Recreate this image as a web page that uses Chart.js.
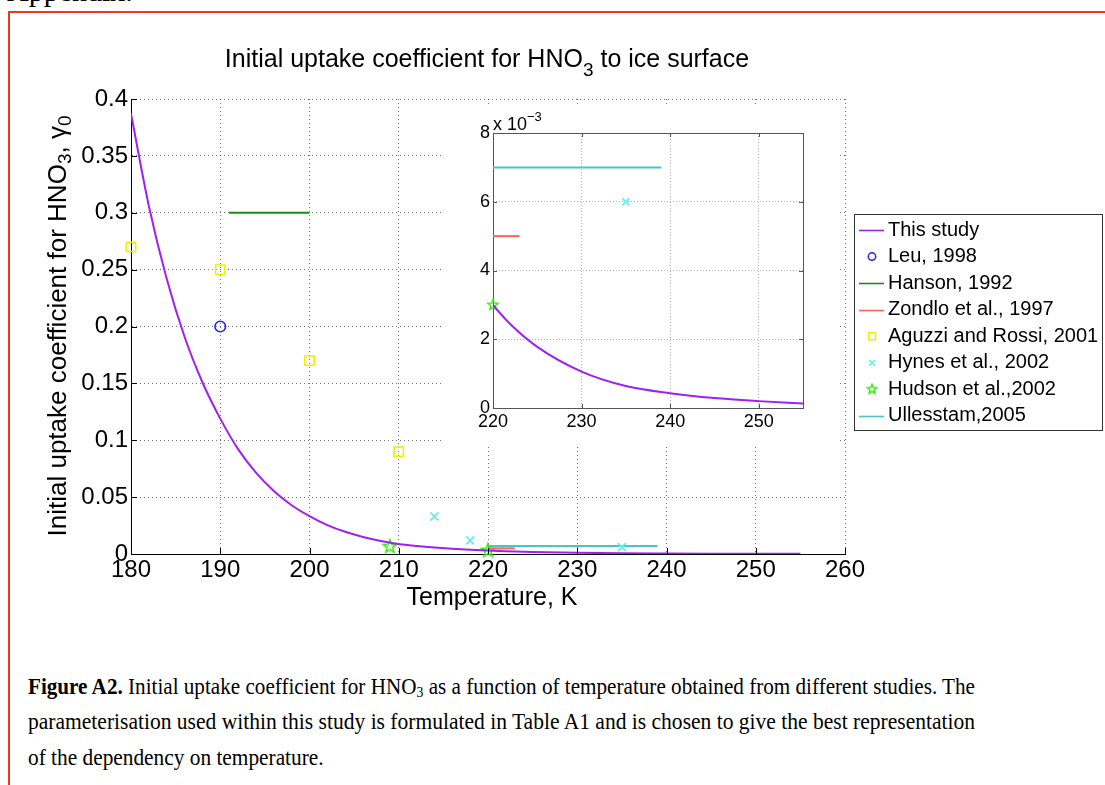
<!DOCTYPE html>
<html>
<head>
<meta charset="utf-8">
<script src="https://cdn.jsdelivr.net/npm/chart.js@4.4.1/dist/chart.umd.min.js"></script>
<style>
html,body{margin:0;padding:0;background:#fff;width:1105px;height:785px;overflow:hidden;position:relative;font-family:"Liberation Sans",Arial,Helvetica,sans-serif;color:#000;}
.abs{position:absolute;white-space:nowrap;}
#frameTop{left:8px;top:11px;width:1097px;height:0;border-top:2px solid #f3361b;}
#frameLeft{left:8px;top:11px;width:0;height:774px;border-left:2px solid #f3361b;}
#appendix{left:7px;top:-24px;font-family:"Liberation Serif","Times New Roman",serif;font-size:30px;line-height:30px;}
#title{left:137px;top:43px;width:700px;text-align:center;font-size:25px;line-height:30px;}
#xlabel{left:242px;top:581px;width:500px;text-align:center;font-size:25px;line-height:30px;}
#ylabel{left:-243px;top:306px;width:600px;height:40px;text-align:center;font-size:26px;line-height:40px;transform:rotate(-90deg);transform-origin:50% 50%;}
#insetExp{left:493px;top:113px;font-size:18px;line-height:22px;}
.cap{left:28px;font-family:"Liberation Serif","Times New Roman",serif;font-size:23px;line-height:35px;transform-origin:0 50%;}
canvas{position:absolute;}
</style>
</head>
<body>
<div id="appendix" class="abs">Appendix.</div>
<div id="frameTop" class="abs"></div>
<div id="frameLeft" class="abs"></div>

<canvas id="mainChart" width="1105" height="650" style="left:0;top:0;"></canvas>
<canvas id="insetChart" width="396" height="341" style="left:442px;top:106px;background:#fff;"></canvas>

<div id="title" class="abs">Initial uptake coefficient for HNO<span style="font-size:19px;position:relative;top:9px;">3</span> to ice surface</div>
<div id="xlabel" class="abs">Temperature, K</div>
<div id="ylabel" class="abs">Initial uptake coefficient for HNO<span style="font-size:19px;position:relative;top:5px;">3</span>, γ<span style="font-size:19px;position:relative;top:5px;">0</span></div>
<div id="insetExp" class="abs">x 10<span style="font-size:13px;position:relative;top:-9px;">−3</span></div>

<div id="cap1" class="abs cap" style="top:669px;"><b>Figure A2.</b> Initial uptake coefficient for HNO<span style="font-size:15px;position:relative;top:3px;">3</span> as a function of temperature obtained from different studies. The</div>
<div id="cap2" class="abs cap" style="top:704px;">parameterisation used within this study is formulated in Table A1 and is chosen to give the best representation</div>
<div id="cap3" class="abs cap" style="top:740px;">of the dependency on temperature.</div>

<script>
// ---------------- data ----------------
const thisStudyT     = [180, 182, 184, 186, 188, 190, 192, 194, 196, 198, 200, 202, 204, 206, 208, 210, 212, 214, 216, 218, 220, 222, 225, 230, 235, 240, 245, 250, 255];
const thisStudyGamma = [0.387, 0.306, 0.242, 0.191, 0.151, 0.119, 0.0922, 0.0715, 0.0554, 0.0429, 0.0333, 0.0254, 0.0195, 0.0150, 0.0115, 0.0088, 0.00705, 0.00565, 0.00452, 0.00367, 0.0030, 0.00243, 0.00178, 0.00106, 0.00064, 0.00043, 0.00029, 0.00020, 0.00013];

const leuT = [190];               const leuGamma = [0.2];
const hansonT = [191, 200];       const hansonGamma = [0.3, 0.3];
const zondloT = [220, 223];       const zondloGamma = [0.005, 0.005];
const aguzziT = [180, 190, 200, 210]; const aguzziGamma = [0.27, 0.25, 0.17, 0.09];
const hynesT = [214, 218, 235];   const hynesGamma = [0.033, 0.012, 0.006];
const hudsonT = [209, 220];       const hudsonGamma = [0.0065, 0.003];
const ullesT = [220, 239];        const ullesGamma = [0.007, 0.007];

const seriesNames = ['This study', 'Leu, 1998', 'Hanson, 1992', 'Zondlo et al., 1997',
                     'Aguzzi and Rossi, 2001', 'Hynes et al., 2002', 'Hudson et al.,2002', 'Ullesstam,2005'];

const mainXTicks = [180, 190, 200, 210, 220, 230, 240, 250, 260];
const mainYTicks = [0, 0.05, 0.1, 0.15, 0.2, 0.25, 0.3, 0.35, 0.4];
const mainYTickLabels = ['0', '0.05', '0.1', '0.15', '0.2', '0.25', '0.3', '0.35', '0.4'];
const insetXTicks = [220, 230, 240, 250];
const insetYTicks = [0, 0.002, 0.004, 0.006, 0.008];
const insetYTickLabels = ['0', '2', '4', '6', '8'];

// ---------------- styling ----------------
Chart.defaults.font.family = '"Liberation Sans", Arial, Helvetica, sans-serif';
Chart.defaults.color = '#000';

const COL = {
  thisStudy: '#a020f0', leu: '#2424ee', hanson: '#1a8a1a', zondlo: '#ff6655',
  aguzzi: '#f0f000', hynes: '#5ff0f0', hudson: '#33ee11', ulles: '#48c6c6'
};

function starCanvas(R, color, lw) {
  const s = 2 * Math.ceil(R + lw + 1);
  const c = document.createElement('canvas');
  c.width = s; c.height = s;
  const g = c.getContext('2d');
  g.strokeStyle = color; g.lineWidth = lw; g.lineJoin = 'miter';
  g.beginPath();
  for (let k = 0; k < 10; k++) {
    const r = (k % 2 === 0) ? R : R * 0.42;
    const a = -Math.PI / 2 + k * Math.PI / 5;
    const px = s / 2 + r * Math.cos(a), py = s / 2 + r * Math.sin(a);
    if (k) g.lineTo(px, py); else g.moveTo(px, py);
  }
  g.closePath(); g.stroke();
  return c;
}
const starMain = starCanvas(7, COL.hudson, 1.6);
const starInset = starCanvas(5.5, COL.hudson, 1.4);
const starLegend = starCanvas(5, COL.hudson, 1.4);

function pts(xs, ys) { return xs.map((x, i) => ({x: x, y: ys[i]})); }

function buildDatasets(isInset) {
  const mclip = isInset ? 8 : false;
  return [
    {label: seriesNames[0], data: pts(thisStudyT, thisStudyGamma), showLine: true, borderColor: COL.thisStudy,
     borderWidth: 2, pointRadius: 0, cubicInterpolationMode: 'monotone', legendKind: 'line'},
    {label: seriesNames[1], data: pts(leuT, leuGamma), showLine: false, pointStyle: 'circle', pointRadius: 5.3,
     pointBorderWidth: 1.6, pointBorderColor: COL.leu, pointBackgroundColor: 'rgba(0,0,0,0)', clip: mclip,
     legendKind: 'circle', color: COL.leu},
    {label: seriesNames[2], data: pts(hansonT, hansonGamma), showLine: true, borderColor: COL.hanson,
     borderWidth: 2, pointRadius: 0, legendKind: 'line'},
    {label: seriesNames[3], data: pts(zondloT, zondloGamma), showLine: true, borderColor: COL.zondlo,
     borderWidth: 2, pointRadius: 0, legendKind: 'line'},
    {label: seriesNames[4], data: pts(aguzziT, aguzziGamma), showLine: false, pointStyle: 'rect', pointRadius: 6.6,
     pointBorderWidth: 1.6, pointBorderColor: COL.aguzzi, pointBackgroundColor: 'rgba(0,0,0,0)', clip: mclip,
     legendKind: 'rect', color: COL.aguzzi},
    {label: seriesNames[5], data: pts(hynesT, hynesGamma), showLine: false, pointStyle: 'crossRot',
     pointRadius: isInset ? 5 : 5.7, pointBorderWidth: 1.8, pointBorderColor: COL.hynes, clip: mclip,
     legendKind: 'cross', color: COL.hynes},
    {label: seriesNames[6], data: pts(hudsonT, hudsonGamma), showLine: false,
     pointStyle: isInset ? starInset : starMain, pointRadius: 6, clip: mclip,
     legendKind: 'star', color: COL.hudson},
    {label: seriesNames[7], data: pts(ullesT, ullesGamma), showLine: true, borderColor: COL.ulles,
     borderWidth: 2, pointRadius: 0, legendKind: 'line'}
  ];
}

// inward tick marks for main axes
const mainTicksPlugin = {
  id: 'mainTicks',
  afterDraw(chart) {
    const {ctx, chartArea: a, scales: {x, y}} = chart;
    ctx.save();
    ctx.strokeStyle = '#000'; ctx.lineWidth = 1;
    ctx.beginPath();
    x.ticks.forEach(t => {
      const px = Math.round(x.getPixelForValue(t.value)) + 0.5;
      ctx.moveTo(px, a.bottom); ctx.lineTo(px, a.bottom - 6);
    });
    y.ticks.forEach(t => {
      const py = Math.round(y.getPixelForValue(t.value)) + 0.5;
      ctx.moveTo(a.left, py); ctx.lineTo(a.left + 6, py);
    });
    ctx.stroke();
    ctx.restore();
  }
};

// boxed legend drawn from the datasets
const boxLegendPlugin = {
  id: 'boxLegend',
  afterDraw(chart) {
    const ctx = chart.ctx;
    const bx = 854, by = 214, bw = 249, bh = 217;
    ctx.save();
    ctx.fillStyle = '#fff';
    ctx.fillRect(bx, by, bw, bh);
    ctx.strokeStyle = '#333'; ctx.lineWidth = 1;
    ctx.strokeRect(bx + 0.5, by + 0.5, bw - 1, bh - 1);
    ctx.font = '20px "Liberation Sans", Arial, Helvetica, sans-serif';
    ctx.textBaseline = 'middle';
    ctx.textAlign = 'left';
    chart.data.datasets.forEach((ds, i) => {
      const yy = 230 + i * 26.55;
      const mx = 872;
      const kind = ds.legendKind;
      ctx.save();
      if (kind === 'line') {
        ctx.strokeStyle = ds.borderColor; ctx.lineWidth = 1.6;
        ctx.beginPath(); ctx.moveTo(859, Math.round(yy) + 0.5); ctx.lineTo(884, Math.round(yy) + 0.5); ctx.stroke();
      } else if (kind === 'circle') {
        ctx.strokeStyle = ds.color; ctx.lineWidth = 1.5;
        ctx.beginPath(); ctx.arc(mx, yy, 3.7, 0, Math.PI * 2); ctx.stroke();
      } else if (kind === 'rect') {
        ctx.strokeStyle = ds.color; ctx.lineWidth = 1.5;
        ctx.strokeRect(mx - 3.5, yy - 3.5, 7, 7);
      } else if (kind === 'cross') {
        ctx.strokeStyle = ds.color; ctx.lineWidth = 1.6;
        ctx.beginPath();
        ctx.moveTo(mx - 3, yy - 3); ctx.lineTo(mx + 3, yy + 3);
        ctx.moveTo(mx + 3, yy - 3); ctx.lineTo(mx - 3, yy + 3);
        ctx.stroke();
      } else if (kind === 'star') {
        ctx.drawImage(starLegend, mx - starLegend.width / 2, yy - starLegend.height / 2);
      }
      ctx.restore();
      ctx.fillStyle = '#000';
      ctx.fillText(ds.label, 888, yy);
    });
    ctx.restore();
  }
};

// box and mirrored inward ticks for the inset
const insetFramePlugin = {
  id: 'insetFrame',
  beforeDatasetsDraw(chart) {
    const {ctx, chartArea: a, scales: {x, y}} = chart;
    ctx.save();
    ctx.strokeStyle = '#555'; ctx.lineWidth = 1;
    ctx.strokeRect(Math.round(a.left) + 0.5, Math.round(a.top) + 0.5,
                   Math.round(a.right - a.left), Math.round(a.bottom - a.top));
    ctx.beginPath();
    x.ticks.forEach(t => {
      const px = Math.round(x.getPixelForValue(t.value)) + 0.5;
      ctx.moveTo(px, a.bottom); ctx.lineTo(px, a.bottom - 4);
      ctx.moveTo(px, a.top); ctx.lineTo(px, a.top + 4);
    });
    y.ticks.forEach(t => {
      const py = Math.round(y.getPixelForValue(t.value)) + 0.5;
      ctx.moveTo(a.left, py); ctx.lineTo(a.left + 4, py);
      ctx.moveTo(a.right, py); ctx.lineTo(a.right - 4, py);
    });
    ctx.stroke();
    ctx.restore();
  }
};

// ---------------- main chart ----------------
new Chart(document.getElementById('mainChart'), {
  type: 'scatter',
  data: {datasets: buildDatasets(false)},
  options: {
    responsive: false, animation: false, devicePixelRatio: 1,
    layout: {padding: {left: 61, right: 260, top: 99, bottom: 56}},
    plugins: {legend: {display: false}, tooltip: {enabled: false}, title: {display: false}},
    scales: {
      x: {
        type: 'linear', min: 180, max: 260,
        afterBuildTicks: s => { s.ticks = mainXTicks.map(v => ({value: v})); },
        afterFit: s => { s.height = 40; },
        ticks: {callback: (v, i) => String(mainXTicks[i]), font: {size: 24}, color: '#000', padding: 2,
                autoSkip: false, maxRotation: 0, minRotation: 0},
        grid: {color: 'rgba(0,0,0,0.55)', lineWidth: 1, drawTicks: false},
        border: {display: true, color: '#000', width: 1, dash: [1, 3]}
      },
      y: {
        type: 'linear', min: 0, max: 0.4,
        afterBuildTicks: s => { s.ticks = mainYTicks.map(v => ({value: v})); },
        afterFit: s => { s.width = 70; },
        ticks: {callback: (v, i) => mainYTickLabels[i], font: {size: 24}, color: '#000', padding: 3, autoSkip: false},
        grid: {color: 'rgba(0,0,0,0.55)', lineWidth: 1, drawTicks: false},
        border: {display: true, color: '#000', width: 1, dash: [1, 3]}
      }
    }
  },
  plugins: [mainTicksPlugin, boxLegendPlugin]
});

// ---------------- inset chart ----------------
new Chart(document.getElementById('insetChart'), {
  type: 'scatter',
  data: {datasets: buildDatasets(true)},
  options: {
    responsive: false, animation: false, devicePixelRatio: 1,
    layout: {padding: {left: 21, right: 35, top: 27, bottom: 11}},
    plugins: {legend: {display: false}, tooltip: {enabled: false}, title: {display: false}},
    scales: {
      x: {
        type: 'linear', min: 220, max: 255,
        afterBuildTicks: s => { s.ticks = insetXTicks.map(v => ({value: v})); },
        afterFit: s => { s.height = 28; },
        ticks: {callback: (v, i) => String(insetXTicks[i]), font: {size: 18}, color: '#000', padding: 3,
                autoSkip: false, maxRotation: 0, minRotation: 0},
        grid: {color: 'rgba(0,0,0,0.3)', lineWidth: 1, drawTicks: false},
        border: {display: false, dash: [1, 2]}
      },
      y: {
        type: 'linear', min: 0, max: 0.008,
        afterBuildTicks: s => { s.ticks = insetYTicks.map(v => ({value: v})); },
        afterFit: s => { s.width = 30; },
        ticks: {callback: (v, i) => insetYTickLabels[i], font: {size: 18}, color: '#000', padding: 3, autoSkip: false},
        grid: {color: 'rgba(0,0,0,0.3)', lineWidth: 1, drawTicks: false},
        border: {display: false, dash: [1, 2]}
      }
    }
  },
  plugins: [insetFramePlugin]
});

// ---------------- caption fitting ----------------
(function fitCaption() {
  const target = 947;
  const c1 = document.getElementById('cap1'), c2 = document.getElementById('cap2'), c3 = document.getElementById('cap3');
  const s1 = target / c1.getBoundingClientRect().width;
  const s2 = target / c2.getBoundingClientRect().width;
  c1.style.transform = 'scaleX(' + s1 + ')';
  c2.style.transform = 'scaleX(' + s2 + ')';
  c3.style.transform = 'scaleX(' + ((s1 + s2) / 2) + ')';
})();
</script>
</body>
</html>
